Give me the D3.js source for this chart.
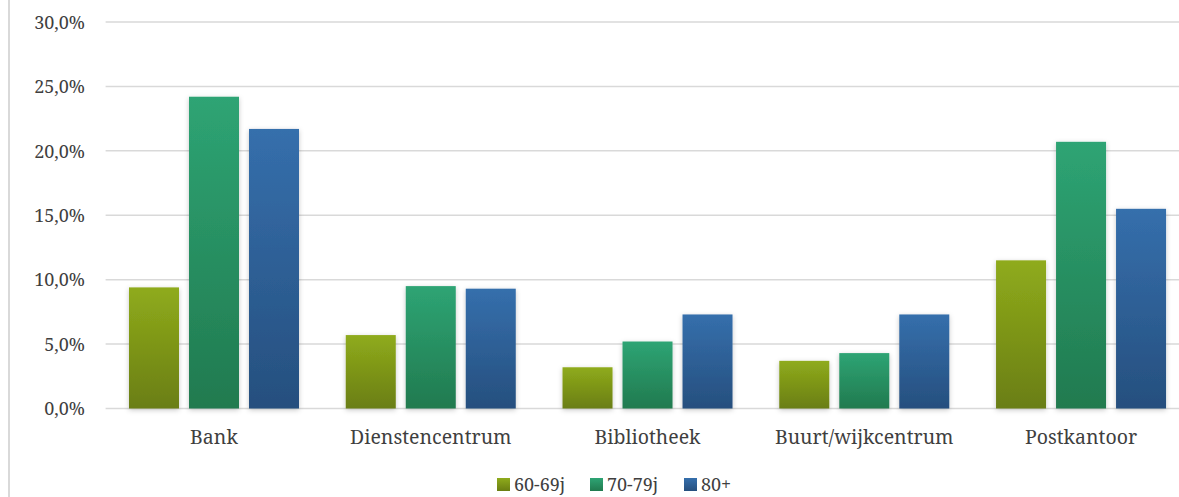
<!DOCTYPE html>
<html><head><meta charset="utf-8">
<script src="https://cdn.jsdelivr.net/npm/d3@7"></script>
<style>
html,body{margin:0;padding:0;background:#fff;overflow:hidden;}
</style></head>
<body><svg id="c" width="1179" height="497"></svg>
<script>
const categories = ["Bank","Dienstencentrum","Bibliotheek","Buurt/wijkcentrum","Postkantoor"];
const seriesNames = ["60-69j","70-79j","80+"];
const s6069 = [9.4, 5.7, 3.2, 3.7, 11.5];
const s7079 = [24.2, 9.5, 5.2, 4.3, 20.7];
const s80 = [21.7, 9.3, 7.3, 7.3, 15.5];
const yTicks = [0,5,10,15,20,25,30];
const series = [s6069, s7079, s80];
const colorsTop = ["#8fab1c","#2ea474","#356fac"];
const colorsBot = ["#6a7e12","#217a4f","#264f7e"];
const FONT = "Noto Serif";
const TXT = "#3f3f3f";

const svg = d3.select("#c");
const defs = svg.append("defs");
series.forEach((s,i)=>{
  const g = defs.append("linearGradient").attr("id","g"+i).attr("x1",0).attr("y1",0).attr("x2",0).attr("y2",1);
  g.append("stop").attr("offset","0%").attr("stop-color",colorsTop[i]);
  g.append("stop").attr("offset","100%").attr("stop-color",colorsBot[i]);
});
const f = defs.append("filter").attr("id","sh").attr("x","-30%").attr("y","-10%").attr("width","160%").attr("height","130%");
f.append("feDropShadow").attr("dx",0).attr("dy",1.5).attr("stdDeviation",2.5).attr("flood-color","#000").attr("flood-opacity",0.22);

svg.append("line").attr("x1",9).attr("x2",9).attr("y1",0).attr("y2",497).attr("stroke","#d9d9d9").attr("stroke-width",2);

const x0 = d3.scaleBand().domain(categories).range([105.6, 1189.4]).paddingInner(0).paddingOuter(0);
const x1 = d3.scaleBand().domain(seriesNames).range([23.4, 193.4]).paddingInner(10/60).paddingOuter(0);
const y = d3.scaleLinear().domain([0,30]).range([408.5, 22]);

svg.append("g").selectAll("line").data(yTicks).join("line")
  .attr("x1",105.6).attr("x2",1179).attr("y1",d=>y(d)).attr("y2",d=>y(d))
  .attr("stroke","#d9d9d9").attr("stroke-width",1.5);

const yAxis = d3.axisLeft(y).tickValues(yTicks).tickSize(0).tickPadding(0)
  .tickFormat(d=>d3.format(".1f")(d).replace(".",",")+"%");
const ya = svg.append("g").attr("transform","translate(85,0)").call(yAxis);
ya.select(".domain").remove();
ya.selectAll("text").attr("font-family",FONT).attr("font-size",18).attr("fill",TXT).attr("dy","0.35em");

const groups = svg.append("g").selectAll("g").data(categories).join("g")
  .attr("transform",d=>`translate(${x0(d)},0)`);
groups.selectAll("rect").data((d,ci)=>series.map((s,si)=>({si, v:s[ci]}))).join("rect")
  .attr("x",d=>x1(seriesNames[d.si])).attr("width",x1.bandwidth())
  .attr("y",d=>y(d.v)).attr("height",d=>y(0)-y(d.v))
  .attr("fill",d=>`url(#g${d.si})`).attr("filter","url(#sh)");

const xAxis = d3.axisBottom(x0).tickSize(0).tickPadding(0);
const xa = svg.append("g").attr("transform","translate(0,430)").call(xAxis);
xa.select(".domain").remove();
xa.selectAll("text").attr("font-family",FONT).attr("font-size",19.5).attr("fill",TXT).attr("dy","0.71em");

const legX = [497, 590, 684];
const leg = svg.append("g").selectAll("g").data(seriesNames).join("g")
  .attr("transform",(d,i)=>`translate(${legX[i]},478)`);
leg.append("rect").attr("width",13).attr("height",13).attr("fill",(d,i)=>`url(#g${i})`);
leg.append("text").attr("x",17).attr("y",7).attr("dy","0.35em")
  .attr("font-family",FONT).attr("font-size",18).attr("fill",TXT).text(d=>d);
</script></body></html>
